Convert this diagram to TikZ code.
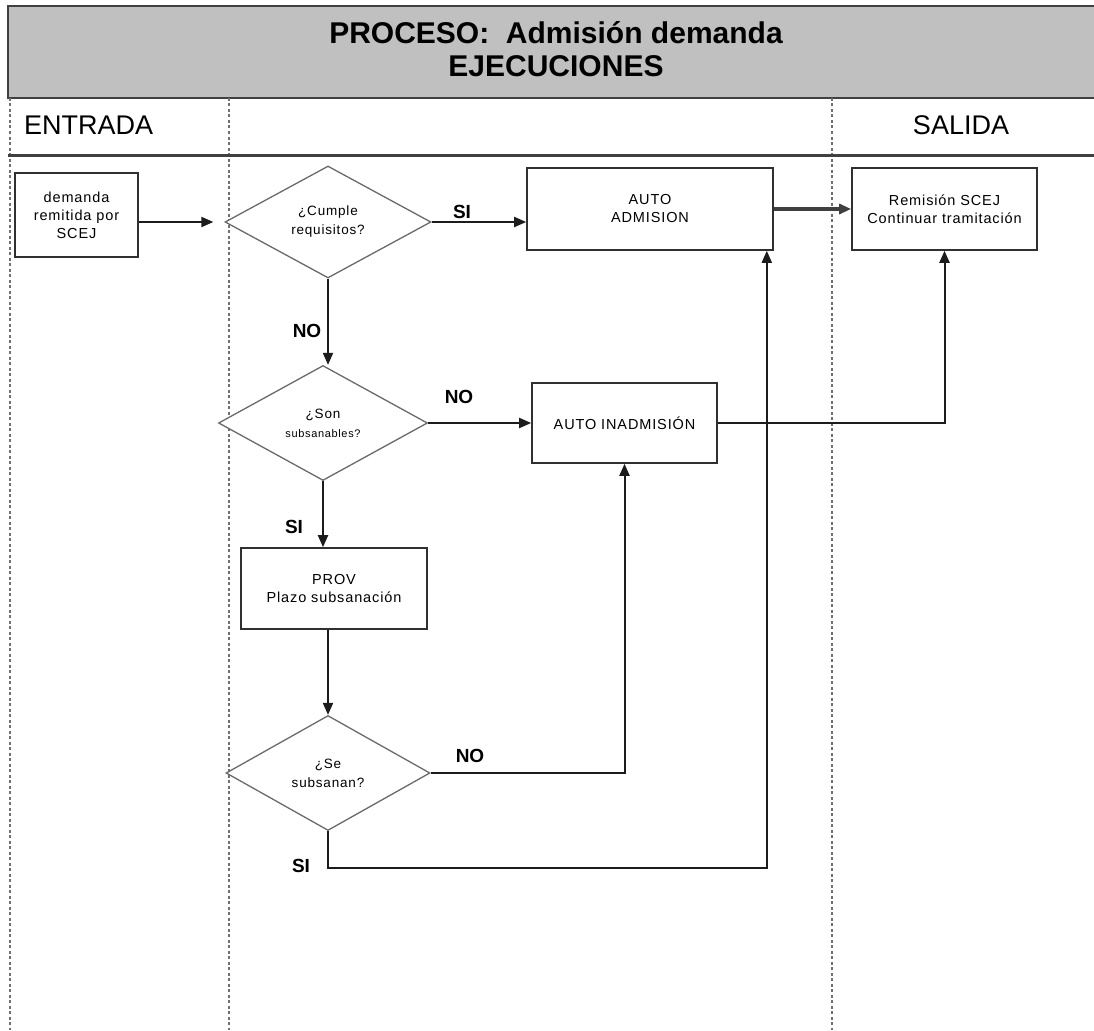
\documentclass[tikz,border=0pt]{standalone}
\usepackage{fontspec}
\setmainfont{Liberation Sans}
\newfontfamily\spacedfont[LetterSpace=6]{Liberation Sans}
\usetikzlibrary{shapes.geometric,arrows.meta,calc}

\definecolor{headfill}{HTML}{C0C0C0}
\definecolor{rulegray}{HTML}{404040}
\definecolor{lanegray}{HTML}{707070}
\definecolor{boxline}{HTML}{303030}
\definecolor{diamline}{HTML}{6A6A6A}
\definecolor{wire}{HTML}{1C1C1C}

\tikzset{
  procbox/.style={draw=boxline, fill=white, line width=1.6pt, rectangle,
    align=center, inner sep=2pt, font=\spacedfont\fontsize{14.5}{18}\selectfont},
  decision/.style={draw=diamline, fill=white, line width=1.3pt, diamond,
    inner sep=0pt, align=center, font=\spacedfont\fontsize{13.5}{19}\selectfont},
  flow/.style={draw=wire, line width=2pt,
    -{Triangle[length=12pt,width=10pt]}},
  branch/.style={font=\bfseries\fontsize{19}{22}\selectfont, inner sep=0pt},
  lane/.style={draw=lanegray, line width=1.3pt, dash pattern=on 3pt off 2.5pt},
  heading/.style={font=\fontsize{27}{30}\selectfont, inner sep=0pt}
}

\begin{document}
\begin{tikzpicture}[x=1pt,y=-1pt]
\useasboundingbox (0,0) rectangle (1094,1030);

% title band
\draw[fill=headfill, draw=rulegray, line width=2.6pt] (8,6) rectangle (1110,98);
\node[font=\bfseries\fontsize{30}{34}\selectfont, inner sep=0pt] (title1) at (556,33) {PROCESO:\ \ Admisión demanda};
\node[font=\bfseries\fontsize{30}{34}\selectfont, inner sep=0pt] (title2) at (556,66) {EJECUCIONES};

% lane separators
\draw[lane] (10,98) -- (10,1030);
\draw[lane] (229,98) -- (229,1030);
\draw[lane] (832,98) -- (832,1030);
\draw[draw=rulegray, line width=3pt] (8,155.5) -- (1110,155.5);

\node[heading, anchor=west] (entrada) at (24,125) {ENTRADA};
\node[heading] (salida) at (961,125) {SALIDA};

% process steps
\node[procbox, minimum width=123pt, minimum height=84pt] (demanda) at (76.5,215)
  {demanda\\remitida por\\SCEJ};
\node[decision, minimum width=206pt, minimum height=112pt] (cumple) at (328,222)
  {¿Cumple\\requisitos?};
\node[procbox, minimum width=246pt, minimum height=82pt] (admision) at (650,209)
  {AUTO\\ADMISION};
\node[procbox, minimum width=185pt, minimum height=82pt] (remision) at (944.5,209)
  {Remisión SCEJ\\Continuar tramitación};
\node[decision, minimum width=209pt, minimum height=115pt] (subsanables) at (323,423)
  {¿Son\\{\fontsize{11}{14}\selectfont subsanables?}};
\node[procbox, minimum width=185pt, minimum height=80pt] (inadmision) at (624.5,423)
  {AUTO INADMISIÓN};
\node[procbox, minimum width=186pt, minimum height=81pt] (prov) at (334,588.5)
  {PROV\\Plazo subsanación};
\node[decision, minimum width=204pt, minimum height=115pt] (subsanan) at (328,773)
  {¿Se\\subsanan?};

% connectors
\draw[flow, shorten >=11pt] (demanda.east |- cumple.west) -- (cumple.west);
\draw[flow] (cumple.east) -- (cumple.east -| admision.west);
\draw[flow, draw=rulegray, line width=3.5pt] (admision.east) -- (remision.west);
\draw[flow] (cumple.south) -- (cumple.south |- subsanables.north);
\draw[flow] (subsanables.east) -- (inadmision.west);
\draw[flow] (inadmision.east) -| (remision.south);
\draw[flow] (subsanables.south) -- (subsanables.south |- prov.north);
\draw[flow] (prov.south -| subsanan.north) -- (subsanan.north);
\draw[flow] (subsanan.east) -| (inadmision.south);
\coordinate (admin-in) at ([xshift=-7pt]admision.south east);
\coordinate (si-turn) at (328,868);
\draw[flow] (subsanan.south) -- (si-turn) -| (admin-in);

% branch labels
\node[branch] (si1) at (462,212) {SI};
\node[branch] (no1) at (307,331) {NO};
\node[branch] (no2) at (459,397) {NO};
\node[branch] (si2) at (294,527) {SI};
\node[branch] (no3) at (470,756) {NO};
\node[branch] (si3) at (301,866) {SI};
\end{tikzpicture}
\end{document}
